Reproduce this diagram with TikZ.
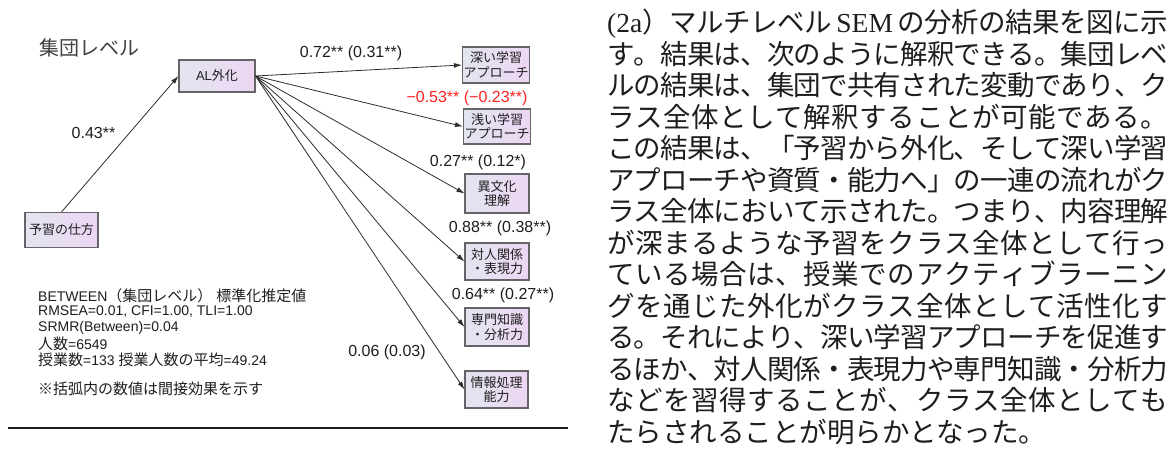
\documentclass[tikz,border=0pt]{standalone}
\usepackage{fontspec}
\setmainfont{Liberation Sans}
\newfontfamily\jp{Noto Sans CJK JP}
\newfontfamily\lser{Liberation Serif}
\usetikzlibrary{arrows.meta}
\definecolor{boxl}{RGB}{226,229,240}
\definecolor{boxr}{RGB}{237,214,243}
\definecolor{boxline}{RGB}{100,100,105}
\definecolor{edgec}{RGB}{45,45,45}
\definecolor{neg}{RGB}{255,35,35}
\definecolor{ink}{RGB}{30,30,30}
\newcommand\jps{\jp\fontsize{15}{16}\selectfont}
% spread characters of a Japanese line with glue between them
\def\spread#1{\spreadS#1\relax}
\def\spreadS#1{#1\spreadB}
\def\spreadB#1{\ifx#1\relax\else\hskip 0pt plus 1fil minus 3pt\relax #1\expandafter\spreadB\fi}
\tikzset{
  var/.style={draw=boxline, line width=1.1pt, left color=boxl, right color=boxr,
    inner sep=1pt, align=center, font=\jp\fontsize{13}{14.5}\selectfont, text=ink},
  arrowline/.style={draw=edgec, line width=0.8pt, -{Latex[length=8pt,width=5pt]}},
  coef/.style={font=\fontsize{16}{18}\selectfont, text=ink, inner sep=0},
  stat/.style={anchor=west, inner sep=0, font=\fontsize{14}{16}\selectfont, text=ink},
  body/.style={anchor=base west, inner sep=0, font=\jp\fontsize{27.5}{31.5}\selectfont, text=ink},
}
\newcommand\bodyline[3]{\node[body] (#1) at (607,#2) {\hbox to 561pt{#3}};}
\begin{document}
\begin{tikzpicture}[x=1pt,y=-1pt]
\useasboundingbox[fill=white] (0,0) rectangle (1176,450);

% title
\node[font=\jp\fontsize{20}{22}\selectfont, text=ink!85] (title) at (89,48) {集団レベル};

% variables
\node[var, minimum width=76pt, minimum height=32pt] (al) at (217,76) {{\normalfont AL}外化};
\node[var, minimum width=73pt, minimum height=35pt] (yo) at (61.5,230) {予習の仕方};
\node[var, minimum width=66pt, minimum height=36pt] (b1) at (496,65) {深い学習\\アプローチ};
\node[var, minimum width=64pt, minimum height=35pt] (b2) at (497,126.5) {浅い学習\\アプローチ};
\node[var, minimum width=64pt, minimum height=39pt] (b3) at (497,193.5) {異文化\\理解};
\node[var, minimum width=64pt, minimum height=37pt] (b4) at (497,261.5) {対人関係\\・表現力};
\node[var, minimum width=64pt, minimum height=38pt] (b5) at (497,327) {専門知識\\・分析力};
\node[var, minimum width=63pt, minimum height=37pt] (b6) at (496.5,389.5) {情報処理\\能力};

% paths
\draw[arrowline] (yo.north) -- (al.west);
\foreach \b in {b1,b2,b3,b4,b5,b6}
  \draw[arrowline] (al.east) -- (\b.west);

% coefficients
\node[coef] (c0) at (93.5,133) {0.43**};
\node[coef] (c1) at (351,53) {0.72** (0.31**)};
\node[coef, text=neg] (c2) at (467,98) {\textminus0.53** (\textminus0.23**)};
\node[coef] (c3) at (478,162) {0.27** (0.12*)};
\node[coef] (c4) at (500,228) {0.88** (0.38**)};
\node[coef] (c5) at (503,295) {0.64** (0.27**)};
\node[coef] (c6) at (387,352) {0.06 (0.03)};

% statistics
\node[stat] (s1) at (38,296) {BETWEEN{\jps（集団レベル）\hspace{4pt}標準化推定値}};
\node[stat] (s2) at (38,312) {RMSEA=0.01, CFI=1.00, TLI=1.00};
\node[stat] (s3) at (38,328) {SRMR(Between)=0.04};
\node[stat] (s4) at (38,344) {{\jps 人数}=6549};
\node[stat] (s5) at (38,360) {{\jps 授業数}=133 {\jps 授業人数の平均}=49.24};
\node[stat] (s6) at (38,389) {\jps ※括弧内の数値は間接効果を示す};

% rule
\coordinate (r1) at (8,428);
\coordinate (r2) at (568,428);
\draw[line width=2pt, ink] (r1) -- (r2);

% body text
\bodyline{t1}{32.5}{{\lser (2a}\spread{）マルチレベル}\hskip 5pt plus 1fil minus 3pt{\lser SEM}\hskip 5pt plus 1fil minus 3pt\spread{の分析の結果を図に示}}
\bodyline{t2}{64}{\spread{す。結果は、次のように解釈できる。集団レベ}}
\bodyline{t3}{95.5}{\spread{ルの結果は、集団で共有された変動であり、ク}}
\bodyline{t4}{127}{\spread{ラス全体として解釈することが可能である。}}
\bodyline{t5}{158.5}{\spread{この結果は、「予習から外化、そして深い学習}}
\bodyline{t6}{190}{\spread{アプローチや資質・能力へ」の一連の流れがク}}
\bodyline{t7}{221.5}{\spread{ラス全体において示された。つまり、内容理解}}
\bodyline{t8}{253}{\spread{が深まるような予習をクラス全体として行っ}}
\bodyline{t9}{284.5}{\spread{ている場合は、授業でのアクティブラーニン}}
\bodyline{t10}{316}{\spread{グを通じた外化がクラス全体として活性化す}}
\bodyline{t11}{347.5}{\spread{る。それにより、深い学習アプローチを促進す}}
\bodyline{t12}{379}{\spread{るほか、対人関係・表現力や専門知識・分析力}}
\bodyline{t13}{410.5}{\spread{などを習得することが、クラス全体としても}}
\node[body] (t14) at (607,442) {たらされることが明らかとなった。};
\end{tikzpicture}
\end{document}
